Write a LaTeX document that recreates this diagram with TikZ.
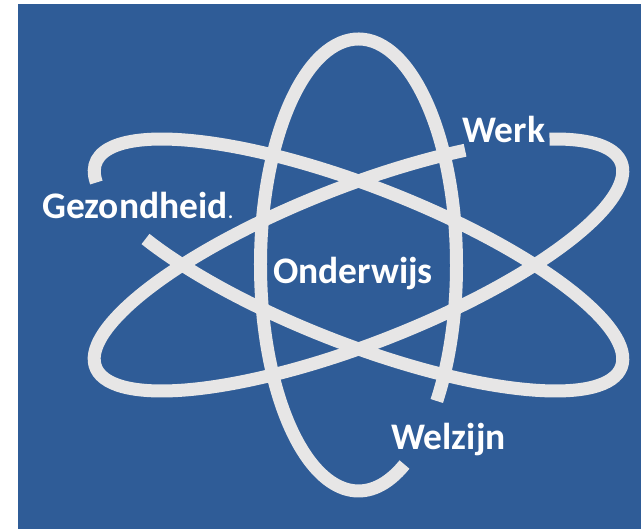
\documentclass[tikz,border=0pt]{standalone}
\usepackage{fontspec}
\setmainfont{Carlito}
\definecolor{bg}{RGB}{47,92,151}
\definecolor{ring}{RGB}{231,230,230}
\begin{document}
\begin{tikzpicture}[x=1pt,y=1pt,
  ring/.style={draw=ring, line width=13pt, line cap=butt},
  lbl/.style={text=white, font=\bfseries\fontsize{37.5}{44}\selectfont, inner sep=0pt, anchor=base west}]
\fill[white] (0,0) rectangle (641,529);
\fill[bg] (18,0) rectangle (641,525);
\useasboundingbox (0,0) rectangle (641,529);
\coordinate (c) at (358.5,264);
% vertical orbit
\begin{scope}[shift={(c)}]
  \draw[ring] (-37:98 and 226) arc[start angle=-37, end angle=298, x radius=98, y radius=226];
\end{scope}
% orbit from upper left to lower right
\begin{scope}[shift={(c)}, rotate=-21.3]
  \draw[ring] (222.5:282 and 78.7) arc[start angle=222.5, end angle=553.5, x radius=282, y radius=78.7];
\end{scope}
% orbit from lower left to upper right
\begin{scope}[shift={(c)}, rotate=21.3]
  \draw[ring] (60:282 and 78.7) arc[start angle=60, end angle=397.5, x radius=282, y radius=78.7];
\end{scope}
\node[lbl] (gez) at (42,310) {Gezondheid{\mdseries\fontsize{24}{24}\selectfont.}};
\node[lbl] (werk) at (462,386) {Werk};
\node[lbl] (ond) at (273,245) {Onderwijs};
\node[lbl] (welz) at (391,79) {Welzijn};
\end{tikzpicture}
\end{document}
